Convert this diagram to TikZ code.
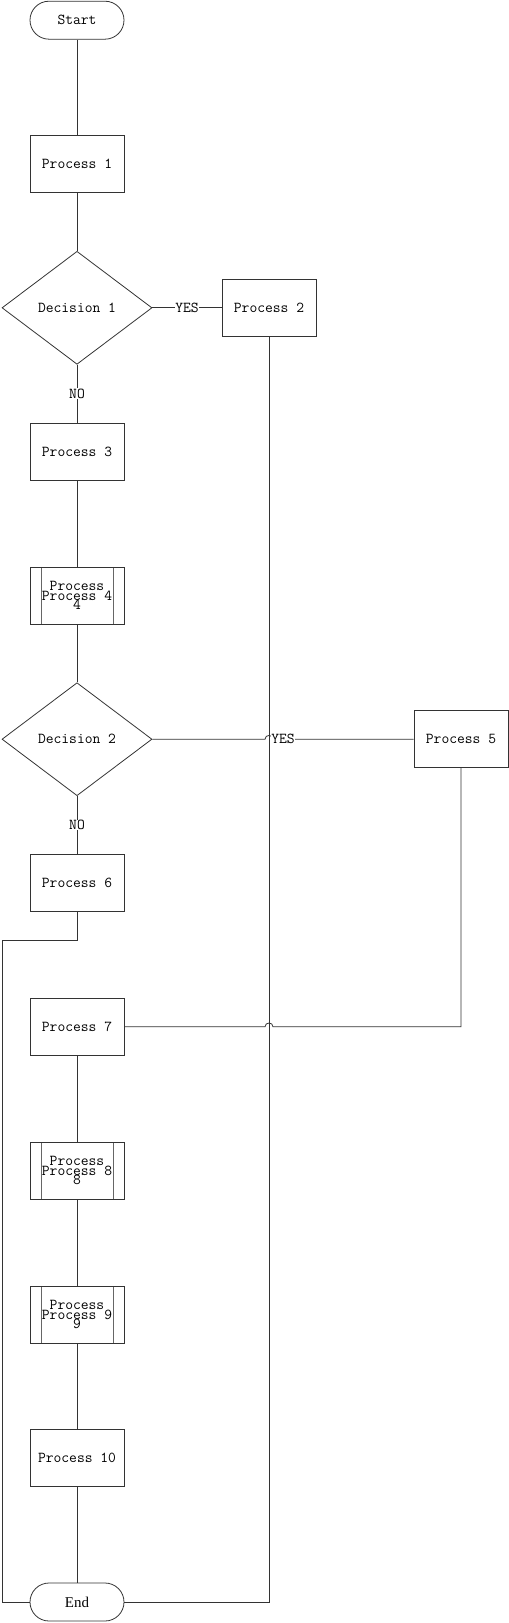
\documentclass[tikz,border=0pt]{standalone}
\usepackage{fontspec}
\newfontfamily\endfont{Liberation Serif}
\usetikzlibrary{shapes.geometric, calc}

\begin{document}
\begin{tikzpicture}[x=1bp, y=-1bp, line width=0.8pt, color=black!80,
        font=\ttfamily\fontsize{15.2}{19}\selectfont,
        process/.style={draw, rectangle, minimum width=94bp, minimum height=57bp, inner sep=0pt, text=black},
        subproc/.style={process, path picture={
            \draw[black!60] ([xshift=11bp]path picture bounding box.north west) -- ([xshift=11bp]path picture bounding box.south west);
            \draw[black!60] ([xshift=-11bp]path picture bounding box.north east) -- ([xshift=-11bp]path picture bounding box.south east);}},
        terminal/.style={draw, rectangle, rounded corners=19bp, minimum width=94bp, minimum height=38bp, inner sep=0pt, text=black},
        decision/.style={draw, diamond, minimum width=150bp, minimum height=113bp, inner sep=0pt, text=black},
        answer/.style={fill=white, inner sep=0.5pt, text=black},
        wraptext/.style={align=center, inner sep=0pt, text=black}]
            \useasboundingbox (0,0) rectangle (509,1623);

            % draw main column
            \node[terminal] (start) at (77,20.2) {Start};
            \node[process] (p1) at (77,164) {Process 1};
            \node[decision, aspect=1.33] (d1) at (77,307.8) {Decision 1};
            \node[process] (p3) at (77,451.6) {Process 3};
            \node[subproc] (p4) at (77,595.4) {Process 4};
            \node[wraptext] (p4w) at (p4) {Process\\4};
            \node[decision, aspect=1.33] (d2) at (77,739.2) {Decision 2};
            \node[process] (p6) at (77,883) {Process 6};
            \node[process] (p7) at (77,1026.8) {Process 7};
            \node[subproc] (p8) at (77,1170.6) {Process 8};
            \node[wraptext] (p8w) at (p8) {Process\\8};
            \node[subproc] (p9) at (77,1314.4) {Process 9};
            \node[wraptext] (p9w) at (p9) {Process\\9};
            \node[process] (p10) at (77,1458.2) {Process 10};
            \node[terminal, font=\endfont\fontsize{15}{18}\selectfont] (end) at (77,1602) {End};

            % draw side branches
            \node[process] (p2) at (269,307.8) {Process 2};
            \node[process] (p5) at (461,739.2) {Process 5};
            \coordinate (p6turn) at (2,940.5);

            % draw straight links
            \draw (start.south) -- (p1.north);
            \draw (p1.south) -- (d1.north);
            \draw (d1.south) -- node[answer] (no1) {NO} (p3.north);
            \draw (d1.east) -- node[answer] (yes1) {YES} (p2.west);
            \draw (p3.south) -- (p4.north);
            \draw (p4.south) -- (d2.north);
            \draw (d2.south) -- node[answer] (no2) {NO} (p6.north);
            \draw (p7.south) -- (p8.north);
            \draw (p8.south) -- (p9.north);
            \draw (p9.south) -- (p10.north);
            \draw (p10.south) -- (end.north);

            % draw elbow links
            \draw (p2.south) |- (end.east);
            \draw (p6.south) |- (p6turn) |- (end.west);

            % draw links that jump over the Process 2 line
            \draw (d2.east) -- ([xshift=-4bp]p2.south |- d2.east)
                  .. controls +(0,-5) and +(0,-5) .. ([xshift=4bp]p2.south |- d2.east) -- (p5.west);
            \node[answer] (yes2) at ($(d2.east)!0.5!(p5.west)$) {YES};
            \draw (p5.south) -- (p5.south |- p7.east) -- ([xshift=4bp]p2.south |- p7.east)
                  .. controls +(0,-5) and +(0,-5) .. ([xshift=-4bp]p2.south |- p7.east) -- (p7.east);
        \end{tikzpicture}
\end{document}
